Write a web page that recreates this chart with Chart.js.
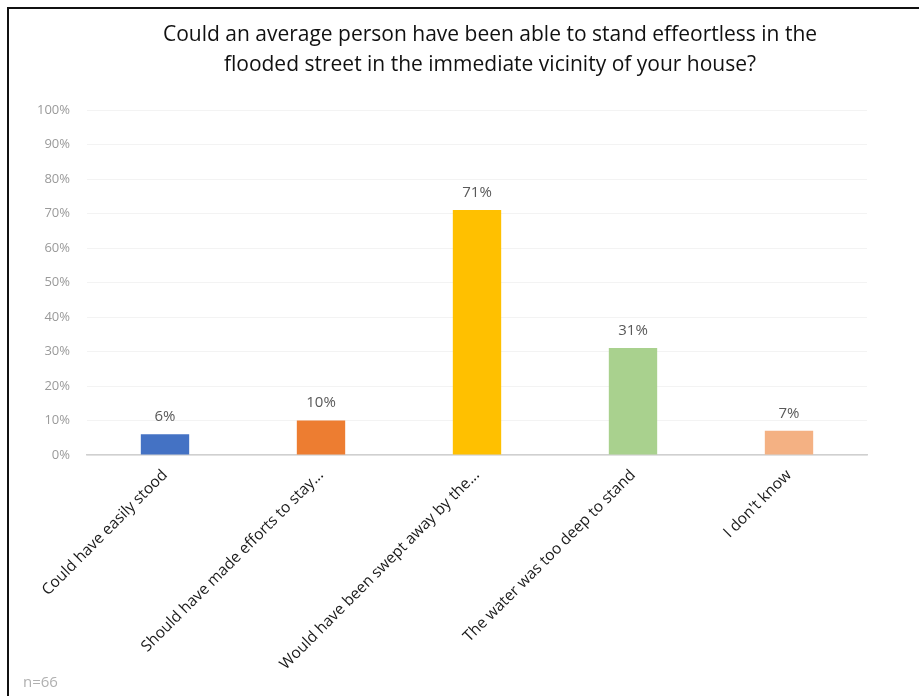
<!DOCTYPE html>
<html>
<head>
<meta charset="utf-8">
<script src="https://cdn.jsdelivr.net/npm/chart.js@4/dist/chart.umd.min.js"></script>
<style>
  html, body { margin: 0; padding: 0; background: #fff; }
  #wrap { position: relative; width: 919px; height: 696px; }
  #frame { position: absolute; left: 7px; top: 7px; right: -4px; bottom: -4px; border: 2px solid #111; }
  canvas { position: absolute; left: 0; top: 0; }
</style>
</head>
<body>
<div id="wrap">
  <div id="frame"></div>
  <canvas id="myCanvas" width="919" height="696"></canvas>
</div>
<script>
const categories = [
  "Could have easily stood",
  "Should have made efforts to stay...",
  "Would have been swept away by the...",
  "The water was too deep to stand",
  "I don't know",
];
const values = [6, 10, 71, 31, 7];
const barColors = ["#4472C4", "#ED7D31", "#FFC000", "#A9D18E", "#F4B183"];
const titleLines = [
  "Could an average person have been able to stand effeortless in the",
  "flooded street in the immediate vicinity of your house?",
];
const footNote = "n=66";

// title (centred a bit right of the plot, like the original), bar labels, n= note
const extraText = {
  id: "extraText",
  afterDraw(chart) {
    const ctx = chart.ctx;
    ctx.save();
    ctx.font = "21px 'Open Sans'";
    ctx.fillStyle = "#111";
    ctx.textAlign = "center";
    ctx.textBaseline = "middle";
    ctx.fillText(titleLines[0], 490, 35);
    ctx.fillText(titleLines[1], 490, 65);

    const meta = chart.getDatasetMeta(0);
    ctx.font = "15px 'Open Sans'";
    ctx.fillStyle = "#595959";
    ctx.textBaseline = "bottom";
    meta.data.forEach((bar, i) => {
      ctx.fillText(values[i] + "%", bar.x, bar.y - 10);
    });

    ctx.font = "15px 'Open Sans'";
    ctx.fillStyle = "#b0b0b0";
    ctx.textAlign = "left";
    ctx.textBaseline = "middle";
    ctx.fillText(footNote, 23, 683);
    ctx.restore();
  },
};

const line = document.getElementById("myCanvas");
new Chart(line, {
  type: "bar",
  data: {
    labels: categories,
    datasets: [
      {
        data: values,
        backgroundColor: barColors,
        barPercentage: 0.62,
        categoryPercentage: 0.5,
      },
    ],
  },
  options: {
    responsive: false,
    animation: false,
    layout: {
      padding: { left: 0, right: 52, top: 110, bottom: 0 },
    },
    plugins: {
      legend: { display: false },
      tooltip: { enabled: false },
      title: { display: false },
    },
    scales: {
      x: {
        grid: { display: false },
        border: { color: "#d0d0d0", width: 1.5 },
        ticks: {
          color: "#1a1a1a",
          font: { family: "'Open Sans'", size: 15.5 },
          minRotation: 45,
          maxRotation: 45,
          autoSkip: false,
          padding: 3,
        },
        afterFit: (scale) => {
          scale.height = 241;
        },
      },
      y: {
        min: 0,
        max: 100,
        grid: { color: "#f3f3f3", drawTicks: false },
        border: { display: false },
        ticks: {
          stepSize: 10,
          color: "#9a9a9a",
          padding: 17,
          font: { family: "'Open Sans'", size: 13 },
          callback: (v) => v + "%",
        },
        afterFit: (scale) => {
          scale.width = 87;
        },
      },
    },
  },
  plugins: [extraText],
});
</script>
</body>
</html>
